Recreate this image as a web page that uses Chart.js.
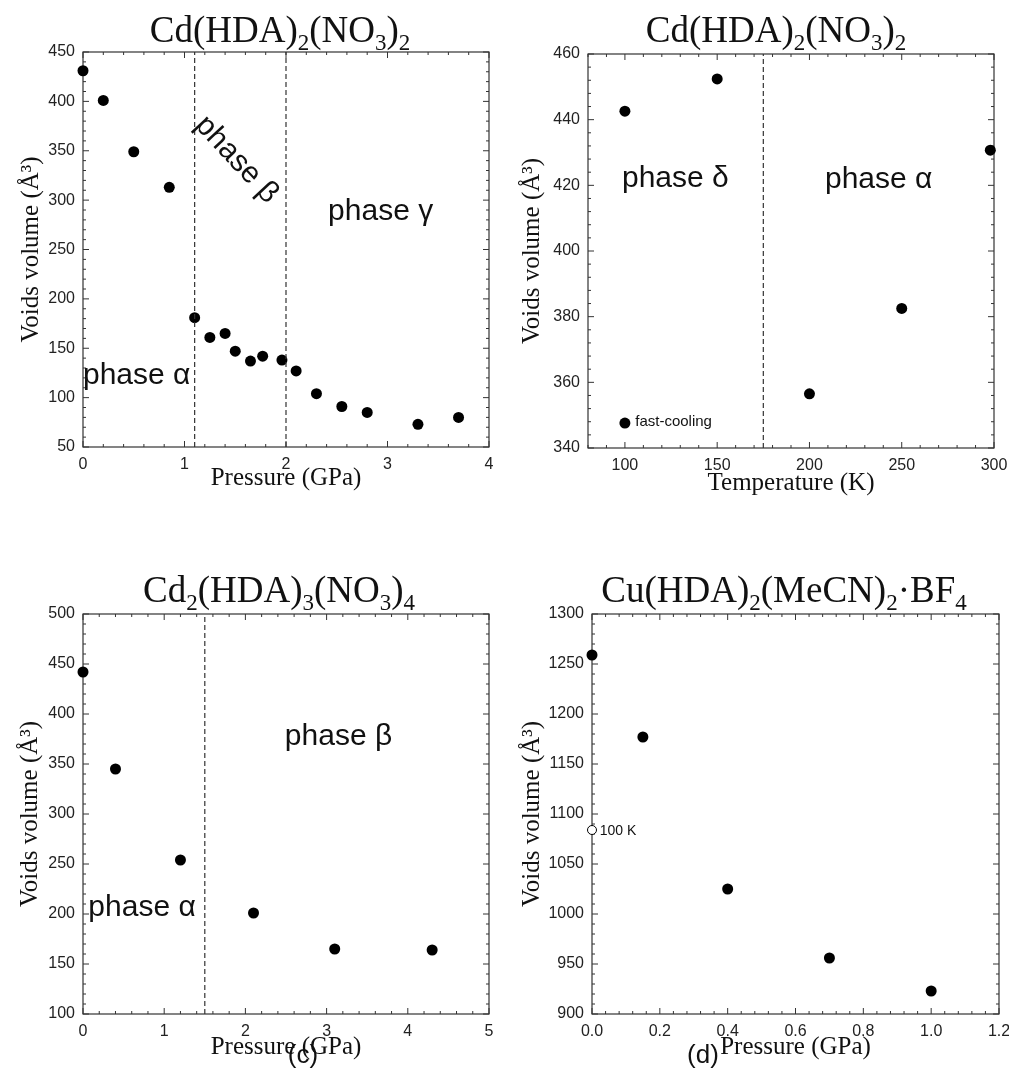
<!DOCTYPE html>
<html>
<head>
<meta charset="utf-8">
<script src="https://cdn.jsdelivr.net/npm/chart.js@4.4.0/dist/chart.umd.min.js"></script>
<style>
  body { margin: 0; background: #fff; width: 1009px; height: 1070px; overflow: hidden; position: relative; }
  canvas { position: absolute; }
</style>
</head>
<body>
<canvas id="chartA" width="500" height="540" style="left:0;top:0"></canvas>
<canvas id="chartB" width="509" height="540" style="left:500px;top:0"></canvas>
<canvas id="chartC" width="500" height="530" style="left:0;top:540px"></canvas>
<canvas id="chartD" width="509" height="530" style="left:500px;top:540px"></canvas>
<script>
// (a) Cd(HDA)2(NO3)2 vs pressure
const pressureA = [0, 0.2, 0.5, 0.85, 1.1, 1.25, 1.4, 1.5, 1.65, 1.77, 1.96, 2.1, 2.3, 2.55, 2.8, 3.3, 3.7];
const voidsA = [431, 401, 349, 313, 181, 161, 165, 147, 137, 142, 138, 127, 104, 91, 85, 73, 80];
const boundariesA = [1.1, 2.0];
const xTicksA = [0, 1, 2, 3, 4];
const yTicksA = [50, 100, 150, 200, 250, 300, 350, 400, 450];

// (b) Cd(HDA)2(NO3)2 vs temperature
const temperatureB = [100, 150, 200, 250, 298];
const voidsB = [442.6, 452.4, 356.5, 382.5, 430.7];
const fastCoolTemp = [100];
const fastCoolVoids = [347.6];
const boundariesB = [175];
const xTicksB = [100, 150, 200, 250, 300];
const yTicksB = [340, 360, 380, 400, 420, 440, 460];

// (c) Cd2(HDA)3(NO3)4 vs pressure
const pressureC = [0, 0.4, 1.2, 2.1, 3.1, 4.3];
const voidsC = [442, 345, 254, 201, 165, 164];
const boundariesC = [1.5];
const xTicksC = [0, 1, 2, 3, 4, 5];
const yTicksC = [100, 150, 200, 250, 300, 350, 400, 450, 500];

// (d) Cu(HDA)2(MeCN)2·BF4 vs pressure
const pressureD = [0, 0.15, 0.4, 0.7, 1.0];
const voidsD = [1259, 1177, 1025, 956, 923];
const lowTempPressure = [0];
const lowTempVoids = [1084];
const xTicksD = [0, 0.2, 0.4, 0.6, 0.8, 1.0, 1.2];
const yTicksD = [900, 950, 1000, 1050, 1100, 1150, 1200, 1250, 1300];

const sans = "'Liberation Sans', Arial, sans-serif";
const serif = "'Liberation Serif', 'Times New Roman', serif";

// title with _N subscripts
function drawRich(ctx, str, cx, base) {
  const size = 37, subSize = 23, drop = 8;
  const parts = str.split(/(_\d)/).filter(s => s).map(s =>
    s[0] === '_' ? {t: s.slice(1), sub: true} : {t: s, sub: false});
  let w = 0;
  parts.forEach(p => {
    ctx.font = (p.sub ? subSize : size) + 'px ' + serif;
    p.w = ctx.measureText(p.t).width;
    w += p.w;
  });
  let x = cx - w / 2;
  ctx.textAlign = 'left';
  ctx.textBaseline = 'alphabetic';
  parts.forEach(p => {
    ctx.font = (p.sub ? subSize : size) + 'px ' + serif;
    ctx.fillText(p.t, x, base + (p.sub ? drop : 0));
    x += p.w;
  });
}

function steps(min, max, step) {
  const out = [];
  const n = Math.round((max - min) / step);
  for (let k = 0; k <= n; k++) out.push(+(min + k * step).toFixed(6));
  return out;
}

function decor(p) {
  return {
    id: 'decor',
    beforeDatasetsDraw(chart) {
      const {ctx, chartArea: a, scales: {x, y}} = chart;
      ctx.save();
      ctx.strokeStyle = '#333';
      ctx.lineWidth = 1.2;
      ctx.strokeRect(a.left, a.top, a.right - a.left, a.bottom - a.top);
      ctx.lineWidth = 1;
      ctx.beginPath();
      steps(x.min, x.max, p.xMinor).forEach(v => {
        const px = x.getPixelForValue(v);
        const len = p.xTicks.some(t => Math.abs(t - v) < 1e-6) ? 6 : 3;
        ctx.moveTo(px, a.bottom); ctx.lineTo(px, a.bottom - len);
        ctx.moveTo(px, a.top); ctx.lineTo(px, a.top + len);
      });
      steps(y.min, y.max, p.yMinor).forEach(v => {
        const py = y.getPixelForValue(v);
        const len = p.yTicks.some(t => Math.abs(t - v) < 1e-6) ? 6 : 3;
        ctx.moveTo(a.left, py); ctx.lineTo(a.left + len, py);
        ctx.moveTo(a.right, py); ctx.lineTo(a.right - len, py);
      });
      ctx.stroke();
      ctx.restore();
    },
    afterDraw(chart) {
      const {ctx, scales: {x, y}} = chart;
      ctx.save();
      ctx.fillStyle = '#111';
      drawRich(ctx, p.title, p.titleX, p.titleY);
      p.labels.forEach(l => {
        ctx.save();
        ctx.font = l.size + 'px ' + sans;
        ctx.textAlign = l.align || 'left';
        ctx.textBaseline = l.baseline || 'alphabetic';
        ctx.translate(x.getPixelForValue(l.x), y.getPixelForValue(l.y));
        if (l.rotate) ctx.rotate(l.rotate * Math.PI / 180);
        ctx.fillText(l.text, 0, 0);
        ctx.restore();
      });
      if (p.letter) {
        ctx.font = '26px ' + sans;
        ctx.textAlign = 'center';
        ctx.textBaseline = 'alphabetic';
        ctx.fillText(p.letter, p.letterX, p.letterY);
      }
      ctx.restore();
    }
  };
}

function panel(id, p) {
  const datasets = [];
  p.boundaries.forEach(b => datasets.push({
    data: [{x: b, y: p.yMin}, {x: b, y: p.yMax}],
    showLine: true, borderColor: '#333', borderWidth: 1.2, borderDash: [5, 3],
    pointRadius: 0, clip: false
  }));
  p.series.forEach(s => datasets.push({
    data: s.x.map((v, i) => ({x: v, y: s.y[i]})),
    pointRadius: s.r, backgroundColor: s.fill, borderColor: '#000', borderWidth: s.border,
    clip: false
  }));
  const tickFont = {family: sans, size: 16};
  return new Chart(document.getElementById(id), {
    type: 'scatter',
    data: {datasets},
    options: {
      responsive: false,
      animation: false,
      events: [],
      layout: {padding: {top: p.padTop, right: p.padRight, left: 0, bottom: 0}},
      plugins: {legend: {display: false}, tooltip: {enabled: false}},
      scales: {
        x: {
          type: 'linear', min: p.xMin, max: p.xMax,
          grid: {display: false, drawTicks: false}, border: {display: false},
          afterBuildTicks: s => { s.ticks = p.xTicks.map(v => ({value: v})); },
          afterFit: s => { s.height = p.xAxisHeight; s.paddingLeft = 0; s.paddingRight = 0; },
          ticks: {padding: 8, font: tickFont, color: '#222', maxRotation: 0, autoSkip: false,
                  callback: v => p.xDec ? v.toFixed(p.xDec) : String(v)},
          title: {display: true, text: p.xTitle, color: '#111', font: {family: serif, size: 25},
                  padding: {top: 0, bottom: p.xTitlePad}}
        },
        y: {
          type: 'linear', min: p.yMin, max: p.yMax,
          grid: {display: false, drawTicks: false}, border: {display: false},
          afterBuildTicks: s => { s.ticks = p.yTicks.map(v => ({value: v})); },
          afterFit: s => { s.width = p.yAxisWidth; s.paddingTop = 0; s.paddingBottom = 0; },
          ticks: {padding: 8, font: tickFont, color: '#222', autoSkip: false,
                  callback: v => String(v)},
          title: {display: true, text: 'Voids volume (Å³)', color: '#111', font: {family: serif, size: 25},
                  padding: {top: p.yTitlePad, bottom: 0}}
        }
      }
    },
    plugins: [decor(p)]
  });
}

const dot = (x, y) => ({x, y, r: 5.5, fill: '#000', border: 0});

panel('chartA', {
  title: 'Cd(HDA)_2(NO_3)_2', titleX: 280, titleY: 42,
  xMin: 0, xMax: 4, yMin: 50, yMax: 450, xTicks: xTicksA, yTicks: yTicksA, xMinor: 0.2, yMinor: 10,
  padTop: 52, padRight: 11, xAxisHeight: 93, yAxisWidth: 83, xTitlePad: 47, yTitlePad: 16,
  xTitle: 'Pressure (GPa)', boundaries: boundariesA,
  series: [dot(pressureA, voidsA)],
  labels: [
    {text: 'phase α', x: 0, y: 114, size: 30},
    {text: 'phase γ', x: 2.415, y: 280, size: 30},
    {text: 'phase β', x: 1.513, y: 341, size: 30, align: 'center', baseline: 'middle', rotate: 47}
  ]
});

panel('chartB', {
  title: 'Cd(HDA)_2(NO_3)_2', titleX: 276, titleY: 42,
  xMin: 80, xMax: 300, yMin: 340, yMax: 460, xTicks: xTicksB, yTicks: yTicksB, xMinor: 10, yMinor: 4,
  padTop: 54, padRight: 15, xAxisHeight: 92, yAxisWidth: 88, xTitlePad: 42, yTitlePad: 17,
  xTitle: 'Temperature (K)', boundaries: boundariesB,
  series: [dot(temperatureB, voidsB), dot(fastCoolTemp, fastCoolVoids)],
  labels: [
    {text: 'phase δ', x: 98.4, y: 419.6, size: 30},
    {text: 'phase α', x: 208.4, y: 419.3, size: 30},
    {text: 'fast-cooling', x: 105.6, y: 347.9, size: 15, baseline: 'middle'}
  ]
});

panel('chartC', {
  title: 'Cd_2(HDA)_3(NO_3)_4', titleX: 279, titleY: 62,
  xMin: 0, xMax: 5, yMin: 100, yMax: 500, xTicks: xTicksC, yTicks: yTicksC, xMinor: 0.2, yMinor: 10,
  padTop: 74, padRight: 11, xAxisHeight: 56, yAxisWidth: 83, xTitlePad: 8, yTitlePad: 15,
  xTitle: 'Pressure (GPa)', boundaries: boundariesC,
  series: [dot(pressureC, voidsC)],
  labels: [
    {text: 'phase α', x: 0.066, y: 197.6, size: 30},
    {text: 'phase β', x: 2.486, y: 369, size: 30}
  ],
  letter: '(c)', letterX: 303, letterY: 523
});

panel('chartD', {
  title: 'Cu(HDA)_2(MeCN)_2·BF_4', titleX: 284, titleY: 62,
  xMin: 0, xMax: 1.2, yMin: 900, yMax: 1300, xTicks: xTicksD, yTicks: yTicksD, xMinor: 0.04, yMinor: 10,
  padTop: 74, padRight: 10, xAxisHeight: 56, yAxisWidth: 92, xTitlePad: 8, yTitlePad: 17, xDec: 1,
  xTitle: 'Pressure (GPa)', boundaries: [],
  series: [dot(pressureD, voidsD),
           {x: lowTempPressure, y: lowTempVoids, r: 4.5, fill: '#fff', border: 1}],
  labels: [
    {text: '100 K', x: 0.0226, y: 1083.2, size: 14, baseline: 'middle'}
  ],
  letter: '(d)', letterX: 203, letterY: 523
});
</script>
</body>
</html>
